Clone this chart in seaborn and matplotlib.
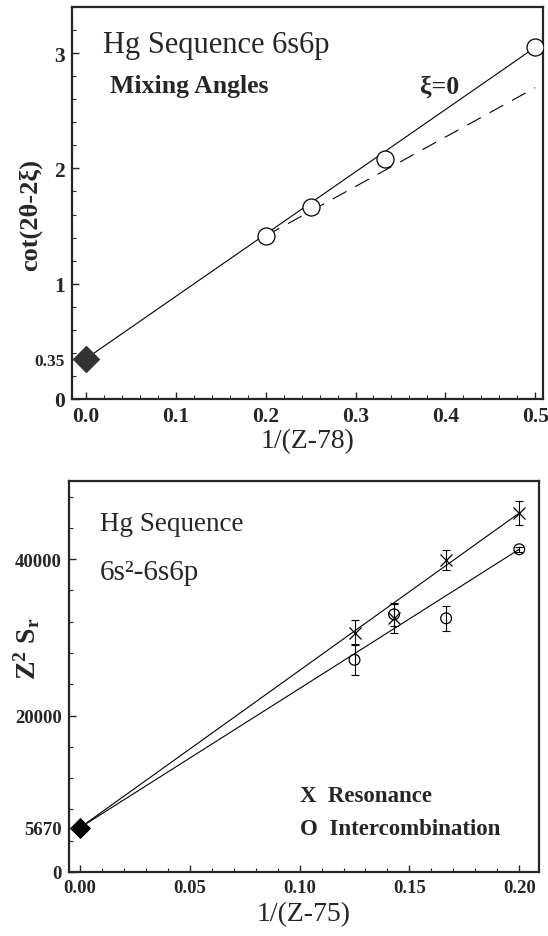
import matplotlib
matplotlib.use('Agg')
import matplotlib.pyplot as plt
import matplotlib.ticker as ticker
import numpy as np
import pandas as pd
import seaborn as sns

# top panel: mixing angles, Hg sequence 6s6p
mix_x = [0.2, 0.25, 0.333, 0.5]
mix_y = [1.415, 1.667, 2.078, 3.05]
mix_limit = 0.35
mix_fit_x = [0.0, 0.5]
mix_fit_y = [0.35, 3.05]
xi0_x = [0.2, 0.5]
xi0_y = [1.415, 2.70]

# bottom panel: line strengths
str_x = [0.125, 0.143, 0.1667, 0.2]
res_y = [30610, 32440, 39870, 45900]
res_err = [1570, 1850, 1270, 1530]
int_y = [27130, 32950, 32440, 41270]
int_err = [2000, 1500, 1590, 300]
str_limit = 5670
res_fit_y = [5670, 45900]
int_fit_y = [5670, 41270]
fit_x = [0.0, 0.2]

sns.set_style('ticks')
plt.rcParams['font.family'] = ['Liberation Serif', 'DejaVu Serif']
plt.rcParams['mathtext.fontset'] = 'stix'

W, H = 548, 937
fig = plt.figure(figsize=(W / 100, H / 100), dpi=100)
ax1 = fig.add_axes([72 / W, 1 - 400 / H, 471 / W, 392 / H])
ax2 = fig.add_axes([69 / W, 1 - 873 / H, 470 / W, 391 / H])

lw = 0.8

# ---- top panel
sns.lineplot(x=mix_fit_x, y=mix_fit_y, color='black', lw=lw, ax=ax1)
ax1.plot(xi0_x, xi0_y, color='black', lw=lw, dashes=(14, 9))
sns.scatterplot(x=mix_x, y=mix_y, marker='o', s=150, facecolor='white',
                edgecolor='black', linewidth=0.9, zorder=5, ax=ax1)
sns.scatterplot(x=[0.0], y=[mix_limit], marker='D', s=170, color='#333333',
                edgecolor='#333333', zorder=6, clip_on=False, ax=ax1)

ax1.set_xlim(-0.0156, 0.5087)
ax1.set_ylim(0, 3.4)
ax1.xaxis.set_major_locator(ticker.MultipleLocator(0.1))
ax1.xaxis.set_minor_locator(ticker.MultipleLocator(0.02))
ax1.xaxis.set_major_formatter(ticker.FormatStrFormatter('%.1f'))
ax1.set_yticks([0, 0.35, 1, 2, 3])
ax1.set_yticklabels(['0', '0.35', '1', '2', '3'])
ax1.yaxis.set_minor_locator(ticker.MultipleLocator(0.2))
for lab in ax1.get_yticklabels():
    if lab.get_text() == '0.35':
        lab.set_fontsize(12.5)
    else:
        lab.set_fontsize(15.5)
for lab in ax1.get_xticklabels():
    lab.set_fontsize(15.5)

ax1.set_xlabel('1/(Z-78)', fontsize=20)
ax1.set_ylabel('cot(2θ-2ξ)', fontsize=19, fontweight='bold')
ax1.xaxis.set_label_coords(0.5, -0.075)
ax1.yaxis.set_label_coords(-0.064, 0.472)

# ---- bottom panel
sns.lineplot(x=fit_x, y=res_fit_y, color='black', lw=lw, ax=ax2)
sns.lineplot(x=fit_x, y=int_fit_y, color='black', lw=lw, ax=ax2)
ax2.errorbar(str_x, res_y, yerr=res_err, fmt='none', ecolor='black',
             elinewidth=lw, capsize=3.2, capthick=lw)
ax2.errorbar(str_x, int_y, yerr=int_err, fmt='none', ecolor='black',
             elinewidth=lw, capsize=3.2, capthick=lw)
sns.scatterplot(x=str_x, y=res_y, marker='x', s=75, color='black',
                linewidth=0.9, zorder=5, ax=ax2)
sns.scatterplot(x=str_x, y=int_y, marker='o', s=60, facecolor='none',
                edgecolor='black', linewidth=0.9, zorder=5, ax=ax2)
sns.scatterplot(x=[0.0], y=[str_limit], marker='D', s=100, color='black',
                edgecolor='black', zorder=6, clip_on=False, ax=ax2)

ax2.set_xlim(-0.005, 0.209)
ax2.set_ylim(0, 50000)
ax2.xaxis.set_major_locator(ticker.MultipleLocator(0.05))
ax2.xaxis.set_minor_locator(ticker.MultipleLocator(0.01))
ax2.xaxis.set_major_formatter(ticker.FormatStrFormatter('%.2f'))
ax2.set_yticks([0, 5670, 20000, 40000])
ax2.set_yticklabels(['0', '5670', '20000', '40000'])
ax2.yaxis.set_minor_locator(ticker.MultipleLocator(4000))
for lab in ax2.get_xticklabels() + ax2.get_yticklabels():
    lab.set_fontsize(13.5)

ax2.set_xlabel('1/(Z-75)', fontsize=20)
ax2.set_ylabel(r'Z$^\mathregular{2}$ S$_\mathregular{r}$', fontsize=20,
               fontweight='bold')
ax2.xaxis.set_label_coords(0.5, -0.074)
ax2.yaxis.set_label_coords(-0.057, 0.575)

for ax in (ax1, ax2):
    for s in ax.spines.values():
        s.set_linewidth(1.6)
    ax.tick_params(which='major', direction='in', length=5, width=1,
                   top=False, right=False, pad=5)
    ax.tick_params(which='minor', direction='in', length=3, width=0.8,
                   top=False, right=False)
    for lab in ax.get_xticklabels() + ax.get_yticklabels():
        lab.set_fontweight('bold')

# annotations
def ftext(px, py, s, **kw):
    fig.text(px / W, 1 - py / H, s, ha='left', va='center', **kw)

ftext(103, 45, 'Hg Sequence 6s6p', fontsize=22)
ftext(110, 87, 'Mixing Angles', fontsize=18.5, fontweight='bold')
ftext(420, 87, 'ξ=0', fontsize=18.5, fontweight='bold')
ftext(100, 525, 'Hg Sequence', fontsize=19.5)
ftext(100, 573, '6s²-6s6p', fontsize=21)
ftext(300, 797, 'X  Resonance', fontsize=16.5, fontweight='bold')
ftext(300, 830, 'O  Intercombination', fontsize=16.5, fontweight='bold')

fig.savefig('out.png', dpi=100)
plt.close(fig)
